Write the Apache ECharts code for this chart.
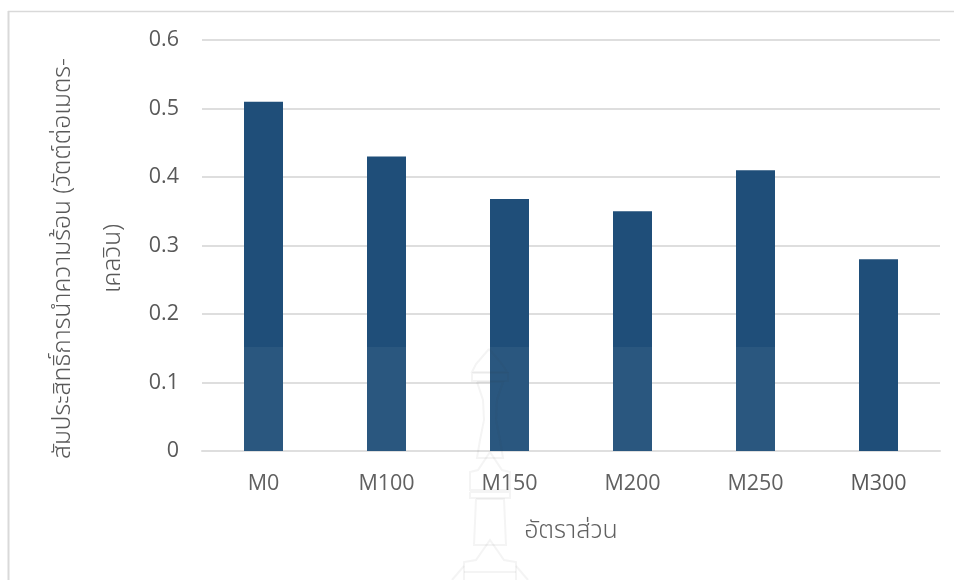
<!DOCTYPE html>
<html>
<head>
<meta charset="utf-8">
<style>html,body{margin:0;padding:0;background:#fff}#chart{width:954px;height:580px}</style>
<script src="https://cdn.jsdelivr.net/npm/echarts@6/dist/echarts.min.js"></script>
</head>
<body>
<div id="chart"></div>
<script>
const categories = ['M0', 'M100', 'M150', 'M200', 'M250', 'M300'];
const conductivity = [0.51, 0.43, 0.368, 0.35, 0.41, 0.28];
const yTitle = 'สัมประสิทธิ์การนำความร้อน (วัตต์ต่อเมตร-\nเคลวิน)';
const xTitle = 'อัตราส่วน';
const latinFont = '"Open Sans", "Noto Sans", sans-serif';
const thaiFont = '"Noto Sans", "Noto Sans Thai", "DejaVu Sans", sans-serif';

// Faint tower emblem printed behind the page content
const emblemStroke = { stroke: 'rgba(60,60,60,0.055)', lineWidth: 2, fill: 'none' };
const emblemOutlines = [
  [[489, 349], [476, 364], [472, 372], [507, 372], [502, 364], [489, 349]],
  [[472, 373], [508, 373], [508, 381], [472, 381], [472, 373]],
  [[477, 382], [503, 382], [497, 400], [496, 420], [500, 440], [503, 458], [477, 458], [480, 440], [484, 420], [483, 400], [477, 382]],
  [[490, 452], [478, 470], [470, 472], [470, 490], [510, 490], [510, 472], [502, 470], [490, 452]],
  [[470, 492], [510, 492], [510, 498], [470, 498], [470, 492]],
  [[476, 499], [504, 499], [506, 545], [474, 545], [476, 499]],
  [[464, 580], [464, 562], [476, 560], [490, 540], [504, 560], [516, 562], [516, 580]],
  [[452, 580], [464, 566]],
  [[528, 580], [516, 566]],
  [[464, 572], [516, 572]]
];

const chart = echarts.init(document.getElementById('chart'), null, { renderer: 'canvas' });
chart.setOption({
  animation: false,
  backgroundColor: '#ffffff',
  grid: { left: 202, right: 14, top: 40, bottom: 129 },
  xAxis: {
    type: 'category',
    data: categories,
    name: xTitle,
    nameLocation: 'middle',
    nameGap: 67,
    nameTextStyle: { fontFamily: thaiFont, fontSize: 25, fontWeight: 300, color: '#595959' },
    axisTick: { show: false },
    axisLine: { lineStyle: { color: '#dedede', width: 2 } },
    axisLabel: { fontFamily: latinFont, fontSize: 21.5, color: '#595959', margin: 22 }
  },
  yAxis: {
    type: 'value',
    min: 0,
    max: 0.6,
    interval: 0.1,
    name: yTitle,
    nameLocation: 'middle',
    nameGap: 45,
    nameTextStyle: { fontFamily: thaiFont, fontSize: 24.5, fontWeight: 300, color: '#595959', lineHeight: 50, padding: [0, 26, 0, 0] },
    axisLine: { show: false },
    axisTick: { show: false },
    axisLabel: {
      fontFamily: latinFont, fontSize: 21.5, color: '#595959', margin: 23,
      formatter: v => (v === 0 ? '0' : v.toFixed(1))
    },
    splitLine: { lineStyle: { color: '#dedede', width: 2 } }
  },
  series: [{
    type: 'bar',
    data: conductivity,
    barWidth: 39,
    itemStyle: { color: '#1f4e79' }
  }],
  graphic: [
    { type: 'line', silent: true, z: 10, shape: { x1: 8.5, y1: 11, x2: 8.5, y2: 580 }, style: { stroke: '#d9d9d9', lineWidth: 2 } },
    { type: 'line', silent: true, z: 10, shape: { x1: 8, y1: 11.5, x2: 954, y2: 11.5 }, style: { stroke: '#d9d9d9', lineWidth: 1.5 } },
    // Pale veil of the emblem layer
    { type: 'rect', silent: true, z: 20, shape: { x: 230, y: 347, width: 600, height: 233 }, style: { fill: 'rgba(255,255,255,0.05)' } },
    ...emblemOutlines.map(points => ({
      type: 'polyline', silent: true, z: 21,
      shape: { points },
      style: emblemStroke
    }))
  ]
});
</script>
</body>
</html>
